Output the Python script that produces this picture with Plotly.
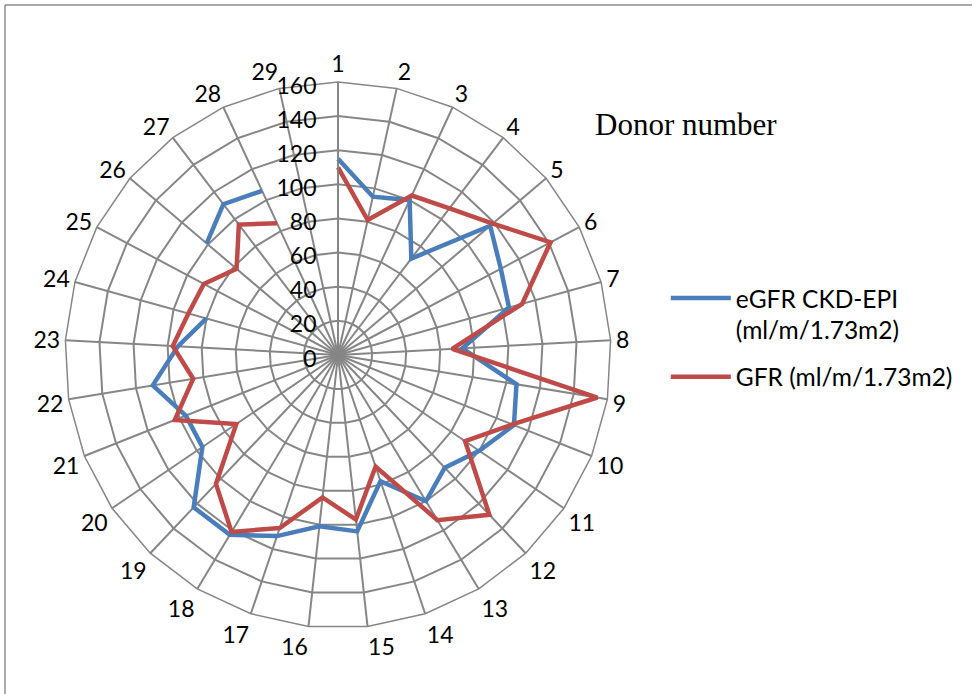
import plotly.graph_objects as go

donors = [str(i) for i in range(1, 30)]
egfr = [115, 95, 100, 71, 117, 108, 104, 73, 106, 111, 100, 91, 100, 78, 104,
        101, 112, 123, 123, 96, 96, 110, 94, 80, None, 101, 111, 106, None]
gfr = [110, 81, 103, 108, 119, 141, 112, 67, 154, 110, 90, 129, 113, 69, 97,
       84, 107, 121, 104, 72, 103, 86, 97, 91, 89, 78, 96, 85, None]
radial_ticks = [0, 20, 40, 60, 80, 100, 120, 140, 160]

W, H = 972, 694
cx, cy, R = 338, 355, 273

fig = go.Figure()
fig.add_trace(go.Scatterpolar(
    r=egfr, theta=donors, mode="lines", name="eGFR CKD-EPI<br>(ml/m/1.73m2)",
    legendgroup="egfr",
    line=dict(color="#4A7EBB", width=4.5), connectgaps=False))
fig.add_trace(go.Scatterpolar(
    r=gfr, theta=donors, mode="lines", name="GFR (ml/m/1.73m2)",
    legendgroup="gfr",
    line=dict(color="#BE4B48", width=4.5), connectgaps=False))

grid = "#868686"
fig.update_layout(
    width=W, height=H,
    margin=dict(l=0, r=0, t=0, b=0),
    paper_bgcolor="white",
    font=dict(family="Lato", size=23, color="black"),
    polar=dict(
        domain=dict(x=[(cx - R) / W, (cx + R) / W],
                    y=[(H - cy - R) / H, (H - cy + R) / H]),
        bgcolor="white",
        gridshape="linear",
        angularaxis=dict(direction="clockwise", rotation=90, type="category",
                         categoryarray=donors, categoryorder="array",
                         showline=True, linecolor=grid, linewidth=1.5,
                         gridcolor=grid, gridwidth=1.5, ticks="",
                         tickfont=dict(family="Lato", size=23, color="black")),
        radialaxis=dict(range=[0, 160], tickvals=radial_ticks, angle=90,
                        side="counterclockwise", showline=True, linecolor=grid,
                        linewidth=1.5, gridcolor=grid, gridwidth=1.5, ticks="",
                        tickfont=dict(family="Lato", size=23, color="black")),
    ),
    legend=dict(x=0.685, y=0.603, xanchor="left", yanchor="top",
                valign="top", itemwidth=60, tracegroupgap=12,
                font=dict(family="Lato", size=24.5, color="black"),
                bgcolor="rgba(0,0,0,0)"),
    annotations=[dict(text="Donor number", x=593 / W, y=1 - 125 / H,
                      xref="paper", yref="paper", xanchor="left", yanchor="middle",
                      showarrow=False,
                      font=dict(family="Liberation Serif", size=31, color="black"))],
    shapes=[
        dict(type="line", xref="paper", yref="paper", x0=5 / W, x1=1,
             y0=1 - 5 / H, y1=1 - 5 / H, line=dict(color="#8c8c8c", width=1.5)),
        dict(type="line", xref="paper", yref="paper", x0=5 / W, x1=5 / W,
             y0=1 - 5 / H, y1=0, line=dict(color="#8c8c8c", width=1.5)),
    ],
)

fig.write_html("out.html")
